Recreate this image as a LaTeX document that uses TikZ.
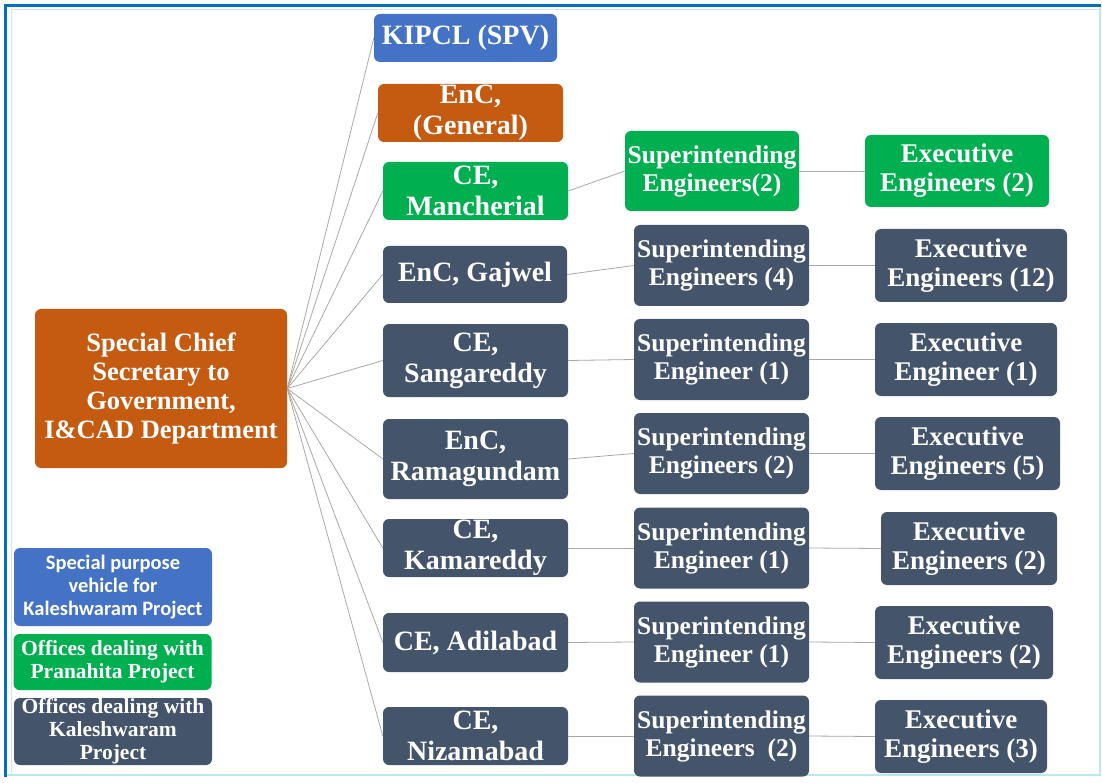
\documentclass[tikz,border=0pt]{standalone}
\usepackage{fontspec}
\setmainfont{Liberation Serif}
\newfontfamily\legendsans{Carlito}
\usepackage{tikz}
\usepackage{xcolor}
\usetikzlibrary{positioning}
\definecolor{rootOrange}{RGB}{197, 90, 17}
\definecolor{spvBlue}{RGB}{68, 114, 196}
\definecolor{pranGreen}{RGB}{0, 176, 80}
\definecolor{kalSlate}{RGB}{68, 84, 106}
\definecolor{frameBlue}{RGB}{0, 112, 192}
\definecolor{frameCyan}{RGB}{185, 232, 242}
\definecolor{frameInner}{RGB}{215, 225, 235}
\definecolor{lineGray}{RGB}{168, 168, 168}

\begin{document}
\begin{tikzpicture}[x=1pt, y=-1pt]

% Style definitions
\tikzset{
    box/.style={
        rectangle, rounded corners=6pt, text=white, align=center, inner sep=0pt
    },
    root/.style={
        box, fill=rootOrange, minimum width=252pt, minimum height=159pt,
        font=\fontsize{26.5}{29}\selectfont\bfseries
    },
    office/.style={
        box, fill=kalSlate, minimum width=185pt, minimum height=58pt,
        font=\fontsize{28}{31}\selectfont\bfseries
    },
    se/.style={
        box, fill=kalSlate, minimum width=175pt, minimum height=81pt,
        font=\fontsize{25.5}{28}\selectfont\bfseries
    },
    ee/.style={
        box, fill=kalSlate, minimum height=73pt,
        font=\fontsize{27}{29}\selectfont\bfseries
    },
    legend/.style={
        box, minimum width=198pt, font=\fontsize{21.5}{23}\selectfont\bfseries
    },
    link/.style={draw=lineGray, line width=0.8pt}
}

\useasboundingbox (0,0) rectangle (1102,783);

% Frame
\draw [frameCyan, line width=1.5pt] (6,6) rectangle (1100,775);
\draw [frameInner, line width=1pt] (11,775) -- (11,10) -- (1099,10);
\draw [frameBlue, line width=3pt] (5.5,777) -- (5.5,5.5) -- (1101,5.5);

% Head of department
\node (sec) [root] at (161,388.5) {Special Chief\\Secretary to\\Government,\\I\&CAD Department};

% First level offices
\node (kipcl) [office, fill=spvBlue, minimum width=183pt, minimum height=48pt] at (465.5,38) {KIPCL (SPV)};
\node (enc_gen) [office, fill=rootOrange] at (470.5,113) {EnC,\\(General)};
\node (ce_manch) [office, fill=pranGreen] at (475.5,191) {CE,\\Mancherial};
\node (enc_gaj) [office, minimum width=184pt, minimum height=57pt] at (475,274.5) {EnC, Gajwel};
\node (ce_sang) [office, minimum height=73pt] at (475.5,360.5) {CE,\\Sangareddy};
\node (enc_ram) [office, minimum height=80pt] at (475.5,459) {EnC,\\Ramagundam};
\node (ce_kam) [office] at (475.5,548) {CE,\\Kamareddy};
\node (ce_adil) [office, minimum height=59pt] at (475.5,642.5) {CE, Adilabad};
\node (ce_niz) [office] at (475.5,736) {CE,\\Nizamabad};

% Superintending engineers
\node (se_manch) [se, fill=pranGreen, minimum width=174pt, minimum height=80pt] at (712,171) {Superintending\\Engineers(2)};
\node (se_gaj) [se] at (721.5,265.5) {Superintending\\Engineers (4)};
\node (se_sang) [se] at (721.5,359.5) {Superintending\\Engineer (1)};
\node (se_ram) [se] at (721.5,453.5) {Superintending\\Engineers (2)};
\node (se_kam) [se] at (721.5,548) {Superintending\\Engineer (1)};
\node (se_adil) [se] at (721.5,642) {Superintending\\Engineer (1)};
\node (se_niz) [se] at (721.5,736) {Superintending\\Engineers~~(2)};

% Executive engineers
\node (ee_manch) [ee, fill=pranGreen, minimum width=184pt, minimum height=72pt] at (957,171) {Executive\\Engineers (2)};
\node (ee_gaj) [ee, minimum width=192pt] at (971,265.5) {Executive\\Engineers (12)};
\node (ee_sang) [ee, minimum width=182pt] at (966,359.5) {Executive\\Engineer (1)};
\node (ee_ram) [ee, minimum width=185pt] at (967.5,453.5) {Executive\\Engineers (5)};
\node (ee_kam) [ee, minimum width=176pt] at (969,548.5) {Executive\\Engineers (2)};
\node (ee_adil) [ee, minimum width=178pt] at (964,642.5) {Executive\\Engineers (2)};
\node (ee_niz) [ee, minimum width=172pt] at (961,736.5) {Executive\\Engineers (3)};

% Legend
\node (lg_spv) [legend, fill=spvBlue, minimum height=78pt, font=\legendsans\fontsize{20.5}{23}\selectfont\bfseries] at (113,587) {Special purpose\\vehicle for\\Kaleshwaram Project};
\node (lg_pran) [legend, fill=pranGreen, minimum height=56pt] at (112.5,662) {Offices dealing with\\Pranahita Project};
\node (lg_kal) [legend, fill=kalSlate, minimum height=67pt] at (113,731.5) {Offices dealing with\\Kaleshwaram\\Project};

% Connections
\draw [link] (sec.east) -- (kipcl.west);
\draw [link] (sec.east) -- (enc_gen.west);
\draw [link] (sec.east) -- (ce_manch.west);
\draw [link] (sec.east) -- (enc_gaj.west);
\draw [link] (sec.east) -- (ce_sang.west);
\draw [link] (sec.east) -- (enc_ram.west);
\draw [link] (sec.east) -- (ce_kam.west);
\draw [link] (sec.east) -- (ce_adil.west);
\draw [link] (sec.east) -- (ce_niz.west);

\draw [link] (ce_manch.east) -- (se_manch.west);
\draw [link] (enc_gaj.east) -- (se_gaj.west);
\draw [link] (ce_sang.east) -- (se_sang.west);
\draw [link] (enc_ram.east) -- (se_ram.west);
\draw [link] (ce_kam.east) -- (se_kam.west);
\draw [link] (ce_adil.east) -- (se_adil.west);
\draw [link] (ce_niz.east) -- (se_niz.west);

\draw [link] (se_manch.east) -- (ee_manch.west);
\draw [link] (se_gaj.east) -- (ee_gaj.west);
\draw [link] (se_sang.east) -- (ee_sang.west);
\draw [link] (se_ram.east) -- (ee_ram.west);
\draw [link] (se_kam.east) -- (ee_kam.west);
\draw [link] (se_adil.east) -- (ee_adil.west);
\draw [link] (se_niz.east) -- (ee_niz.west);

\end{tikzpicture}
\end{document}
